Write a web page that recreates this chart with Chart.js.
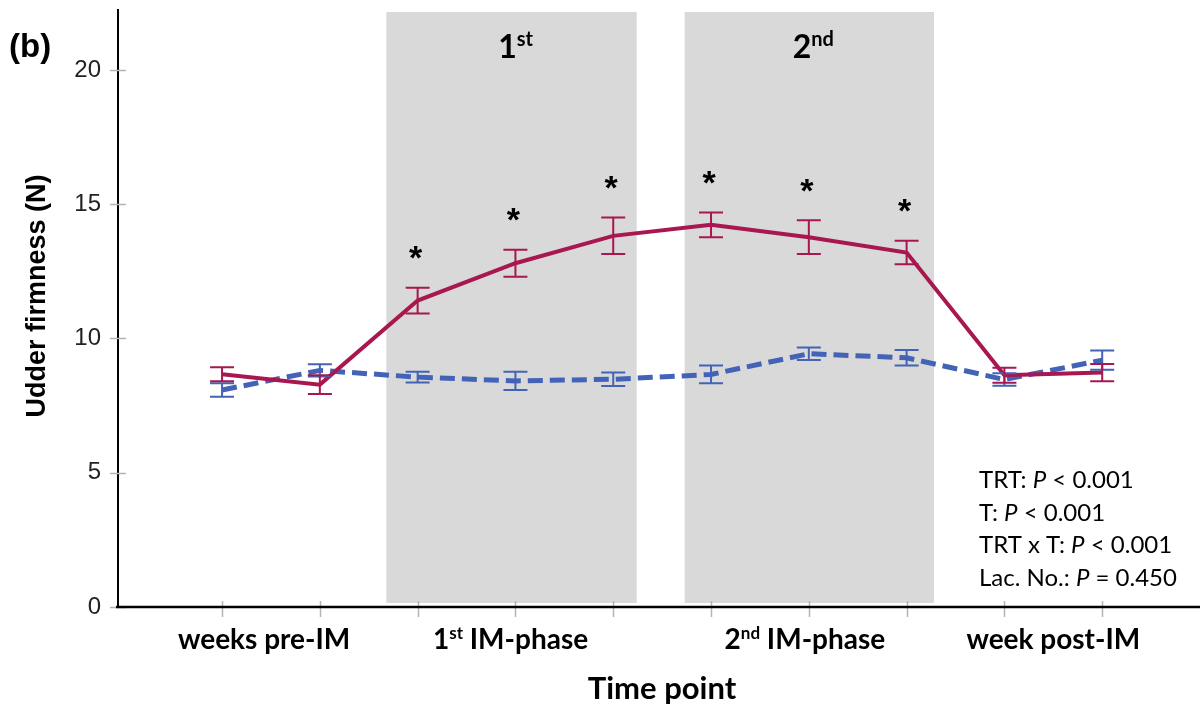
<!DOCTYPE html>
<html>
<head>
<meta charset="utf-8">
<title>Udder firmness</title>
<script src="https://cdn.jsdelivr.net/npm/chart.js@4.4.1/dist/chart.umd.min.js"></script>
<style>
  html, body { margin: 0; padding: 0; background: #fff; }
  #wrap { width: 1200px; height: 709px; }
</style>
</head>
<body>
<div id="wrap"><canvas id="firmnessChart" width="1200" height="709"></canvas></div>
<script>
// time points (index along x) and means / SE per group
const timePoints = [0, 1, 2, 3, 4, 5, 6, 7, 8, 9];
const imGroup    = [8.67, 8.28, 11.41, 12.80, 13.82, 14.23, 13.77, 13.20, 8.63, 8.73];
const imGroupSE  = [0.26, 0.35, 0.48, 0.50, 0.68, 0.46, 0.63, 0.44, 0.28, 0.32];
const ctrlGroup   = [8.08, 8.81, 8.56, 8.42, 8.48, 8.66, 9.43, 9.28, 8.47, 9.19];
const ctrlGroupSE = [0.25, 0.23, 0.20, 0.34, 0.25, 0.33, 0.23, 0.29, 0.23, 0.36];
const starPoints = [2, 3, 4, 5, 6, 7];

const yTickValues = [0, 5, 10, 15, 20];
const groupLabels = [
  [{ t: "weeks pre-IM" }],
  [{ t: "1" }, { t: "st", sup: true }, { t: " IM-phase" }],
  [{ t: "2" }, { t: "nd", sup: true }, { t: " IM-phase" }],
  [{ t: "week post-IM" }]
];
const groupCenters = [0.43, 2.95, 5.96, 8.5];

// shaded injection phases (x in time-point units)
const phaseBands = [[1.68, 4.24], [4.73, 7.28]];
const phaseLabels = [
  [{ t: "1" }, { t: "st", sup: true }],
  [{ t: "2" }, { t: "nd", sup: true }]
];

const statLines = [
  [{ t: "TRT: " }, { t: "P", it: true }, { t: " < 0.001" }],
  [{ t: "T: " }, { t: "P", it: true }, { t: " < 0.001" }],
  [{ t: "TRT x T: " }, { t: "P", it: true }, { t: " < 0.001" }],
  [{ t: "Lac. No.: " }, { t: "P", it: true }, { t: " = 0.450" }]
];

const RED = "#a8174f";
const BLUE = "#4363b6";

const toXY = (vals) => vals.map((v, i) => ({ x: timePoints[i], y: v }));

// draws text made of pieces (superscript / italic), aligned left or center
function drawRich(ctx, segs, x, y, size, weight, family, align) {
  const fontOf = (s) => {
    const sz = s.sup ? Math.round(size * 0.62) : size;
    return `${s.it ? "italic " : ""}${weight} ${sz}px ${family}`;
  };
  let total = 0;
  segs.forEach(s => { ctx.font = fontOf(s); total += ctx.measureText(s.t).width; });
  let cx = align === "center" ? x - total / 2 : x;
  ctx.textAlign = "left";
  ctx.textBaseline = "alphabetic";
  segs.forEach(s => {
    ctx.font = fontOf(s);
    ctx.fillText(s.t, cx, s.sup ? y - size * 0.36 : y);
    cx += ctx.measureText(s.t).width;
  });
}

const decor = {
  id: "decor",
  beforeDatasetsDraw(chart) {
    const { ctx, chartArea, scales: { x } } = chart;
    ctx.save();
    ctx.fillStyle = "#d9d9d9";
    phaseBands.forEach(([a, b]) => {
      const x0 = x.getPixelForValue(a), x1 = x.getPixelForValue(b);
      ctx.fillRect(x0, chartArea.top + 2, x1 - x0, chartArea.bottom - chartArea.top - 6);
    });
    ctx.restore();
  },
  afterDatasetsDraw(chart) {
    const { ctx, scales: { x, y } } = chart;
    ctx.save();
    ctx.lineWidth = 2;
    const bars = (vals, se, color) => {
      ctx.strokeStyle = color;
      vals.forEach((v, i) => {
        const px = x.getPixelForValue(timePoints[i]);
        const yt = y.getPixelForValue(v + se[i]);
        const yb = y.getPixelForValue(v - se[i]);
        ctx.beginPath();
        ctx.moveTo(px, yt); ctx.lineTo(px, yb);
        ctx.moveTo(px - 12, yt); ctx.lineTo(px + 12, yt);
        ctx.moveTo(px - 12, yb); ctx.lineTo(px + 12, yb);
        ctx.stroke();
      });
    };
    bars(ctrlGroup, ctrlGroupSE, BLUE);
    bars(imGroup, imGroupSE, RED);

    // significance asterisks above the IM group
    ctx.fillStyle = "#000";
    ctx.font = "bold 34px 'Liberation Sans'";
    ctx.textAlign = "center";
    ctx.textBaseline = "alphabetic";
    const m = ctx.measureText("*");
    const mid = (m.actualBoundingBoxAscent - m.actualBoundingBoxDescent) / 2;
    starPoints.forEach(i => {
      const px = x.getPixelForValue(timePoints[i]);
      const top = y.getPixelForValue(imGroup[i] + imGroupSE[i]);
      ctx.fillText("*", px - 2, top - 35 + mid);
    });
    ctx.restore();
  },
  afterDraw(chart) {
    const { ctx, chartArea, scales: { x, y } } = chart;
    ctx.save();

    // tick marks crossing the axes
    ctx.strokeStyle = "#b4b4b4";
    ctx.lineWidth = 1.5;
    ctx.beginPath();
    yTickValues.forEach(v => {
      const py = Math.round(y.getPixelForValue(v)) + 0.5;
      ctx.moveTo(chartArea.left - 8, py); ctx.lineTo(chartArea.left + 8, py);
    });
    timePoints.forEach(t => {
      const px = Math.round(x.getPixelForValue(t)) + 0.5;
      ctx.moveTo(px, chartArea.bottom - 6); ctx.lineTo(px, chartArea.bottom + 10);
    });
    ctx.stroke();
    ctx.strokeStyle = "#000";
    ctx.lineWidth = 2.5;
    ctx.beginPath();
    ctx.moveTo(chartArea.left - 2, chartArea.bottom);
    ctx.lineTo(chartArea.right, chartArea.bottom);
    ctx.stroke();

    ctx.fillStyle = "#000";
    // phase headers
    phaseBands.forEach(([a, b], i) => {
      const cx = x.getPixelForValue((a + b) / 2);
      drawRich(ctx, phaseLabels[i], cx + 4, 58, 32, "bold", "Lato", "center");
    });
    // group labels under the axis
    groupLabels.forEach((segs, i) => {
      drawRich(ctx, segs, x.getPixelForValue(groupCenters[i]), 649, 28, "bold", "Lato", "center");
    });
    // axis titles
    drawRich(ctx, [{ t: "Time point" }], (chartArea.left + chartArea.right) / 2 + 3, 699, 31, "bold", "Lato", "center");
    ctx.save();
    ctx.translate(45, 296);
    ctx.rotate(-Math.PI / 2);
    drawRich(ctx, [{ t: "Udder firmness (N)" }], 0, 0, 27, "bold", "Liberation Sans", "center");
    ctx.restore();
    drawRich(ctx, [{ t: "(b)" }], 9, 57, 33, "bold", "Liberation Sans", "left");

    // model statistics
    statLines.forEach((segs, i) => {
      drawRich(ctx, segs, 979, 488 + i * 32.5, 24, "normal", "Lato", "left");
    });
    ctx.restore();
  }
};

new Chart(document.getElementById("firmnessChart"), {
  type: "line",
  data: {
    datasets: [
      {
        label: "IM",
        data: toXY(imGroup),
        borderColor: RED,
        borderWidth: 4,
        pointRadius: 0,
        tension: 0,
        fill: false
      },
      {
        label: "Control",
        data: toXY(ctrlGroup),
        borderColor: BLUE,
        borderWidth: 5,
        borderDash: [15, 7],
        pointRadius: 0,
        tension: 0,
        fill: false
      }
    ]
  },
  options: {
    responsive: false,
    animation: false,
    devicePixelRatio: 1,
    layout: { padding: { top: 10, right: 0, left: 0, bottom: 0 } },
    plugins: { legend: { display: false }, tooltip: { enabled: false } },
    scales: {
      x: {
        type: "linear",
        min: -1.064,
        max: 10.0,
        grid: { display: false, drawTicks: false },
        border: { display: false },
        ticks: { display: false },
        afterFit: (s) => { s.height = 102; s.paddingLeft = 0; s.paddingRight = 0; }
      },
      y: {
        min: 0,
        max: 22.23,
        afterBuildTicks: (s) => { s.ticks = yTickValues.map(v => ({ value: v })); },
        grid: { display: false, drawTicks: false },
        border: { display: true, color: "#000", width: 2 },
        ticks: {
          padding: 17,
          color: "#222",
          font: { family: "Liberation Sans", size: 24 }
        },
        afterFit: (s) => { s.width = 118; s.paddingTop = 0; s.paddingBottom = 0; }
      }
    }
  },
  plugins: [decor]
});
</script>
</body>
</html>
